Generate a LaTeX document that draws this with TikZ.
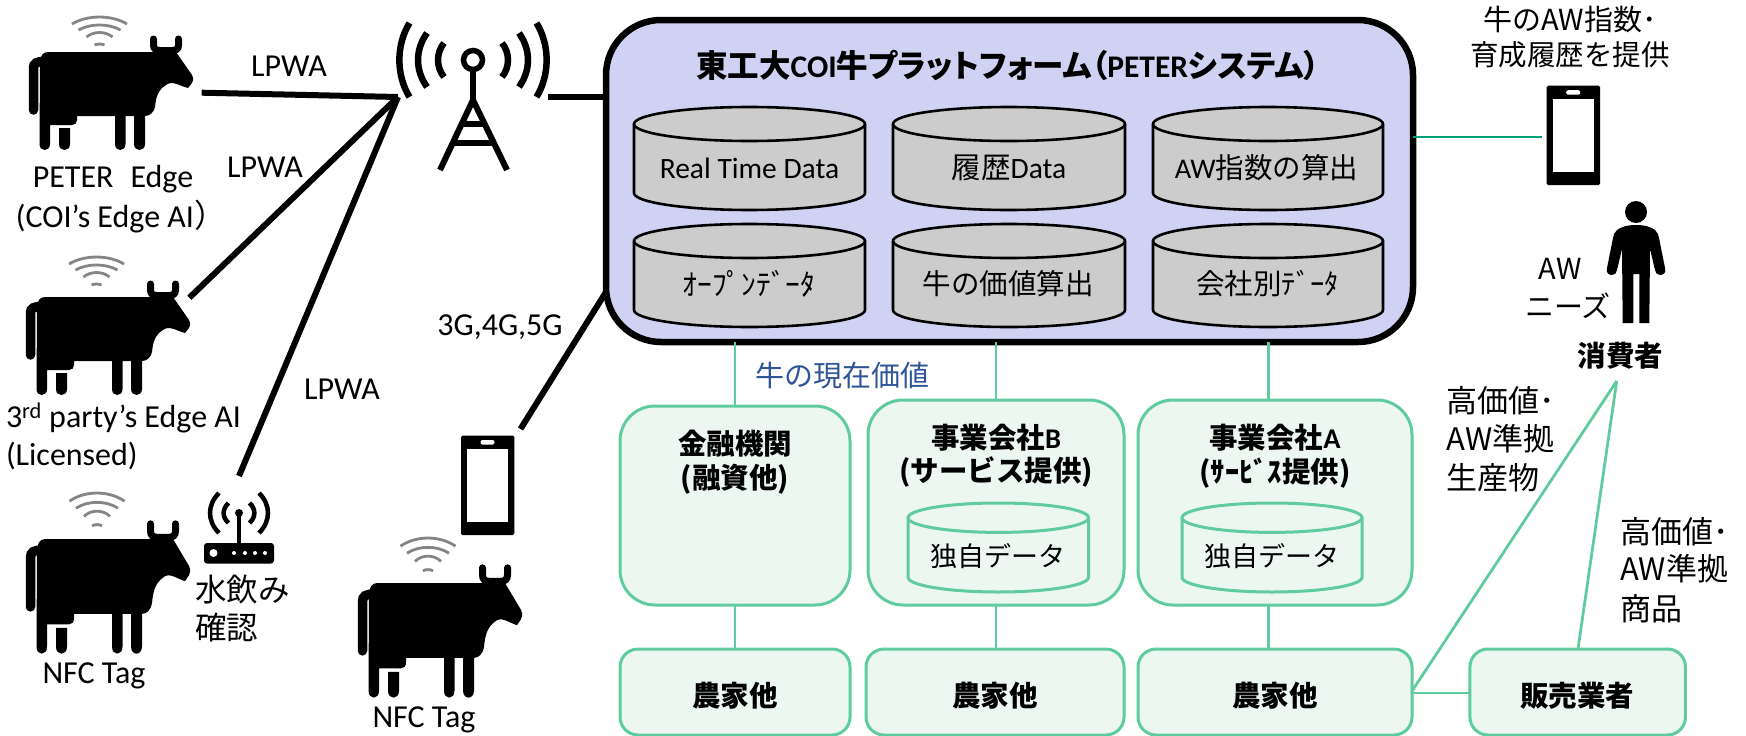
\documentclass[tikz,border=0pt]{standalone}
\usepackage{fontspec}
\setmainfont{Carlito}
\newfontfamily\cjk{Noto Sans CJK JP}
\newfontfamily\cjkp{Noto Sans CJK JP}[RawFeature={+palt}]
\newcommand\J[1]{{\cjk #1}}
\newcommand\Jp[1]{{\cjkp #1}}
\definecolor{mainfill}{HTML}{D0D2F3}
\definecolor{cylgray}{HTML}{CCCCCC}
\definecolor{gline}{HTML}{5FCB9F}
\definecolor{gfill}{HTML}{EDF7F2}
\definecolor{gdark}{HTML}{00A07A}
\definecolor{valblue}{HTML}{2F5597}
\definecolor{wifigray}{HTML}{858585}
\newcommand\dbcyl[6]{%
 \pgfmathsetmacro\cxm{(#1+#2)/2}\pgfmathsetmacro\cxk{0.5523*(#2-#1)/2}%
 \pgfmathsetmacro\cyt{#3+#5}\pgfmathsetmacro\cyb{#4-#5}\pgfmathsetmacro\cyk{0.5523*#5}%
 \draw[#6] (#1,\cyt) -- (#1,\cyb)
   .. controls (#1,\cyb+\cyk) and (\cxm-\cxk,#4) .. (\cxm,#4)
   .. controls (\cxm+\cxk,#4) and (#2,\cyb+\cyk) .. (#2,\cyb)
   -- (#2,\cyt)
   .. controls (#2,\cyt-\cyk) and (\cxm+\cxk,#3) .. (\cxm,#3)
   .. controls (\cxm-\cxk,#3) and (#1,\cyt-\cyk) .. (#1,\cyt) -- cycle;
 \draw[#6,fill=none] (#1,\cyt)
   .. controls (#1,\cyt+\cyk) and (\cxm-\cxk,\cyt+#5) .. (\cxm,\cyt+#5)
   .. controls (\cxm+\cxk,\cyt+#5) and (#2,\cyt+\cyk) .. (#2,\cyt);
}
\newcommand\phonefig[2]{% top-left of a 53 x 100 phone
 \begin{scope}[shift={(#1,#2)}]
  \fill[black,rounded corners=1.5pt] (0,0) rectangle (53.3,99.5);
  \fill[white] (6.3,13.5) rectangle (47,86.5);
  \fill[white,rounded corners=2pt] (19.5,4.5) rectangle (33.5,9);
 \end{scope}}
\tikzset{
 x=1pt,y=-1pt,
 lbl/.style={inner sep=0pt,outer sep=0pt,font=\fontsize{32}{38}\selectfont},
 lblj/.style={lbl,font=\fontsize{29}{34}\selectfont},
 lblr/.style={lbl,font=\fontsize{31}{36}\selectfont},
 lblb/.style={lbl,font=\fontsize{28.5}{34}\selectfont\bfseries},
 cyltxt/.style={lbl,font=\fontsize{29.5}{34}\selectfont},
 link/.style={draw=black,line width=6pt},
 glink/.style={draw=gline,line width=2.8pt},
 gbox/.style={draw=gline,fill=gfill,line width=3pt,inner sep=0pt,outer sep=0pt},
 dbgray/.style={draw=black,fill=cylgray,line width=2.6pt},
 dbgreen/.style={draw=gline,fill=gfill,line width=3pt},
 cowfig/.pic={
  \fill[black] (40,10) .. controls (40,4) and (43,0) .. (48,0) -- (176,0) -- (192,23)
    .. controls (194,27) and (193,29) .. (192,31) -- (188,36)
    .. controls (180,34) and (172,28) .. (166,33)
    .. controls (158,38) and (156,45) .. (155,55)
    .. controls (154,60) and (150,64) .. (145,64) -- (145,92)
    .. controls (145,96) and (142,98) .. (139.5,98)
    .. controls (137,98) and (134,96) .. (134,92) -- (134,64) -- (125.5,64) -- (125.5,92)
    .. controls (125.5,96) and (123,98) .. (120.2,98)
    .. controls (117.5,98) and (115,96) .. (115,92) -- (115,64) -- (77,64) -- (77,68)
    .. controls (77,71) and (75,73) .. (72,73) -- (50,73) -- (50,92)
    .. controls (50,96) and (47.5,98) .. (44.7,98)
    .. controls (42,98) and (39.5,96) .. (39.5,92) -- cycle;
  \fill[black] (59,76) -- (70,76) -- (70,92)
    .. controls (70,96) and (67.5,98) .. (64.5,98)
    .. controls (61.5,98) and (59,96) .. (59,92) -- cycle;
  \draw[black,line width=9.5pt,line cap=round] (33.5,58) -- (33.5,16) .. controls (33.5,11) and (37,9.5) .. (44,9.5);
  \draw[black,line width=7pt,line cap=round] (153.5,-13) -- (153.5,-7) .. controls (153.5,-3) and (156,-1.5) .. (160,-1.5)
    -- (172,-1.5) .. controls (176,-1.5) and (178.5,-3) .. (178.5,-7) -- (178.5,-13);
 },
 wififig/.pic={
  \draw[wifigray,line width=2.8pt] (-27.5,7) .. controls (-12,-2.3) and (12,-2.3) .. (27.5,7);
  \draw[wifigray,line width=2.8pt] (-21,13) .. controls (-9,6.3) and (9,6.3) .. (21,13);
  \draw[wifigray,line width=2.8pt] (-13,20) .. controls (-6,14) and (6,14) .. (13,20);
  \draw[wifigray,line width=2.8pt] (-5,28) .. controls (-2,26.7) and (2,26.7) .. (5,28);
 },
}
\begin{document}
\begin{tikzpicture}
\useasboundingbox (0,0) rectangle (1746,736);
% cows
\pic at (0,52) {cowfig};
\pic at (-3,297) {cowfig};
\pic[yscale=1.17] at (-3,539) {cowfig};
\pic[yscale=1.17] at (329,583) {cowfig};
\pic at (99.5,17) {wififig};
\pic at (96.5,257) {wififig};
\pic[yscale=1.17] at (97,493) {wififig};
\pic[yscale=1.17] at (428,538) {wififig};
% tower
\foreach \s in {-1,1}{
 \draw[black,line width=6.5pt] (473+\s*63.5,23) .. controls (473+\s*77,45) and (473+\s*77,75) .. (473+\s*63.5,97);
 \draw[black,line width=6.5pt] (473+\s*46,33) .. controls (473+\s*58,50) and (473+\s*58,70) .. (473+\s*46,87);
 \draw[black,line width=6.5pt] (473+\s*29,43) .. controls (473+\s*37,53) and (473+\s*37,67) .. (473+\s*29,77);
}
\draw[black,line width=6pt] (473,70) -- (473,100);
\draw[black,line width=6pt,line join=miter] (440,170) -- (473,100) -- (507,170);
\draw[black,line width=5.5pt] (461,124) -- (485,124);
\draw[black,line width=5.5pt] (453,143) -- (494,143);
\draw[black,line width=5.5pt,fill=white] (473,60) circle[radius=9.5];
% router
\fill[black,rounded corners=3pt] (204,543) rectangle (274,563.5);
\fill[white] (213.5,553) circle[radius=4];
\foreach \d in {234,245,255,265}{\fill[white] (\d,553) circle[radius=2];}
\draw[black,line width=3.5pt] (239,544) -- (239,513);
\fill[black] (239,513) circle[radius=4];
\foreach \s in {-1,1}{
 \draw[black,line width=4.5pt] (239+\s*20,493) .. controls (239+\s*32,505) and (239+\s*32,521) .. (239+\s*20,533);
 \draw[black,line width=4.5pt] (239+\s*10.5,503) .. controls (239+\s*17,509) and (239+\s*17,517) .. (239+\s*10.5,523);
}
% phones
\phonefig{461}{435.5}
\phonefig{1546.7}{85.7}
% person
\fill[black] (1636,212) circle[radius=11];
\fill[black] (1636,225) .. controls (1645,225) and (1651,227) .. (1655,230)
  .. controls (1658,232) and (1658,235) .. (1659,238) -- (1665,268)
  .. controls (1666.5,273) and (1663,275) .. (1660,275)
  .. controls (1657,275) and (1655.5,273) .. (1655,270) -- (1650,249) -- (1649.3,323)
  -- (1639.3,323) -- (1639.3,274) -- (1633.3,274) -- (1633.3,323) -- (1622.7,323) -- (1622,249) -- (1617,270)
  .. controls (1616.5,273) and (1615,275) .. (1612,275)
  .. controls (1609,275) and (1605.5,273) .. (1607,268) -- (1613,238)
  .. controls (1614,235) and (1614,232) .. (1617,230)
  .. controls (1621,227) and (1627,225) .. (1636,225) -- cycle;
% main box
\node[draw=black,fill=mainfill,line width=6.5pt,rounded corners=55pt,minimum width=807pt,minimum height=322pt,inner sep=0pt,outer sep=0pt] (platform) at (1009.5,181) {};
\node[lbl,font=\fontsize{31.5}{36}\selectfont\bfseries] (ptitle) at (1008,65) {\Jp{東工大}COI\Jp{牛プラットフォーム（}PETER\Jp{システム）}};
% cylinders
\dbcyl{634}{865}{107}{210}{17}{dbgray}
\dbcyl{893}{1125}{107}{210}{17}{dbgray}
\dbcyl{1153}{1383}{107}{210}{17}{dbgray}
\dbcyl{634}{865}{224}{327}{17}{dbgray}
\dbcyl{893}{1125}{224}{327}{17}{dbgray}
\dbcyl{1153}{1383}{224}{327}{17}{dbgray}
\node[cyltxt] (dbreal) at (749.5,168) {Real Time Data};
\node[cyltxt] (dbhist) at (1009,168) {\J{履歴}Data};
\node[cyltxt,font=\fontsize{28.5}{34}\selectfont] (dbaw) at (1266.5,168) {AW\J{指数の算出}};
\node[cyltxt] (dbopen) at (749,284) {\J{ｵｰﾌﾟﾝﾃﾞｰﾀ}};
\node[cyltxt,font=\fontsize{28.5}{34}\selectfont] (dbvalue) at (1008,284) {\J{牛の価値算出}};
\node[cyltxt,font=\fontsize{28.5}{34}\selectfont] (dbcomp) at (1267.5,284) {\J{会社別ﾃﾞｰﾀ}};
% lower boxes
\node[gbox,rounded corners=35pt,minimum width=230pt,minimum height=199pt] (bank) at (735,505.5) {};
\node[gbox,rounded corners=35pt,minimum width=256pt,minimum height=205pt] (compB) at (996,502.5) {};
\node[gbox,rounded corners=35pt,minimum width=274pt,minimum height=205pt] (compA) at (1275,502.5) {};
\node[gbox,rounded corners=18pt,minimum width=230pt,minimum height=86pt] (farm1) at (735,692) {};
\node[gbox,rounded corners=18pt,minimum width=258pt,minimum height=86pt] (farm2) at (995,692) {};
\node[gbox,rounded corners=18pt,minimum width=274pt,minimum height=86pt] (farm3) at (1275,692) {};
\node[gbox,rounded corners=18pt,minimum width=215.5pt,minimum height=86pt] (seller) at (1577.7,692) {};
\node[lblb] (bankA) at (735,444) {\J{金融機関}};
\node[lblb] (bankB) at (735,479) {\J{(融資他)}};
\node[lblb] (compBa) at (996,438) {\J{事業会社}B};
\node[lblb] (compBb) at (996,472) {\J{(サービス提供)}};
\node[lblb] (compAa) at (1275,438) {\J{事業会社}A};
\node[lblb] (compAb) at (1275,473) {\J{(ｻｰﾋﾞｽ提供)}};
\dbcyl{908}{1088.5}{503}{592}{14.7}{dbgreen}
\dbcyl{1182}{1362}{503}{592}{14.7}{dbgreen}
\node[lbl,font=\fontsize{27}{32}\selectfont] (ownB) at (998,556) {\J{独自データ}};
\node[lbl,font=\fontsize{27}{32}\selectfont] (ownA) at (1272,556) {\J{独自データ}};
\node[lblb] (farm1t) at (735,696) {\J{農家他}};
\node[lblb] (farm2t) at (995,696) {\J{農家他}};
\node[lblb] (farm3t) at (1275,696) {\J{農家他}};
\node[lblb] (sellert) at (1577,696) {\J{販売業者}};
% coordinates
\coordinate (towerfoot) at (398,97);
\coordinate (towerright) at (548.4,97);
\coordinate (cow1end) at (201.7,92.7);
\coordinate (cow2end) at (189.4,297.7);
\coordinate (routerend) at (239,476);
\coordinate (phoneend) at (520.5,429);
\coordinate (platformleft) at (606,292);
\coordinate (phoneright) at (1541.7,137);
\coordinate (platformright) at (1413,137);
\coordinate (consumerend) at (1616.7,381);
\coordinate (sellertop) at (1578,649);
\coordinate (farmright) at (1412,691);
\coordinate (farmrightb) at (1412,693);
\coordinate (sellerleft) at (1470,693);
\coordinate (platA) at (1268.5,342);
\coordinate (compAtop) at (1268.5,400);
\coordinate (compAbot) at (1268.5,605);
\coordinate (farmAtop) at (1268.5,649);
% connectors
\draw[link] (cow1end) -- (towerfoot);
\draw[link] (cow2end) -- (towerfoot);
\draw[link] (routerend) -- (towerfoot);
\draw[link] (towerright) -- (towerright -| platform.west);
\draw[link] (phoneend) -- (platformleft);
\draw[draw=gdark,line width=2.8pt] (platformright) -- (phoneright);
\draw[glink] (bank.north) -- (bank.north |- platform.south);
\draw[glink] (compB.north) -- (compB.north |- platform.south);
\draw[glink] (compAtop) -- (platA);
\draw[glink] (bank.south) -- (farm1.north);
\draw[glink] (compB.south) -- (compB.south |- farm2.north);
\draw[glink] (compAbot) -- (farmAtop);
\draw[glink] (farmrightb) -- (sellerleft);
\draw[glink] (farmright) -- (consumerend);
\draw[glink] (sellertop) -- (consumerend);
% labels
\node[lbl] (lpwaA) at (289,66.5) {LPWA};
\node[lbl] (lpwaB) at (265,167) {LPWA};
\node[lbl] (lpwaC) at (342,389) {LPWA};
\node[lbl] (g345) at (500,327) {3G,4G,5G};
\node[lbl] (peterA) at (113,179) {PETER\hspace{17pt}Edge};
\node[lbl] (peterB) at (121,217) {(COI’s Edge AI\J{）}};
\node[lbl,anchor=west] (thirdA) at (6,418) {3\textsuperscript{rd} party’s Edge AI};
\node[lbl,anchor=west] (thirdB) at (6,456) {(Licensed)};
\node[lbl] (nfcA) at (94,676) {NFC Tag};
\node[lbl] (nfcB) at (424,720) {NFC Tag};
\node[lblr,anchor=west,font=\fontsize{31.5}{36}\selectfont] (waterA) at (195,590) {\J{水飲み}};
\node[lblr,anchor=west,font=\fontsize{31.5}{36}\selectfont] (waterB) at (195,628) {\J{確認}};
\node[lblj,text=valblue] (valuelbl) at (842.5,376) {\J{牛の現在価値}};
\node[lblj] (offerA) at (1570,20) {\J{牛のAW指数･}};
\node[lblj,font=\fontsize{28.5}{34}\selectfont] (offerB) at (1570,55) {\J{育成履歴を提供}};
\node[lblj] (needA) at (1560,269) {\J{AW}};
\node[lblj] (needB) at (1568,306) {\J{ニーズ}};
\node[lblb] (consumer) at (1620.7,356) {\J{消費者}};
\node[lblr,anchor=west] (hvA) at (1446.7,401) {\J{高価値･}};
\node[lblr,anchor=west] (hvB) at (1446.7,439) {\J{AW準拠}};
\node[lblr,anchor=west] (hvC) at (1446.7,478) {\J{生産物}};
\node[lblr,anchor=west] (hwA) at (1620,532) {\J{高価値･}};
\node[lblr,anchor=west] (hwB) at (1620,569) {\J{AW準拠}};
\node[lblr,anchor=west] (hwC) at (1620,609) {\J{商品}};
\end{tikzpicture}
\end{document}
